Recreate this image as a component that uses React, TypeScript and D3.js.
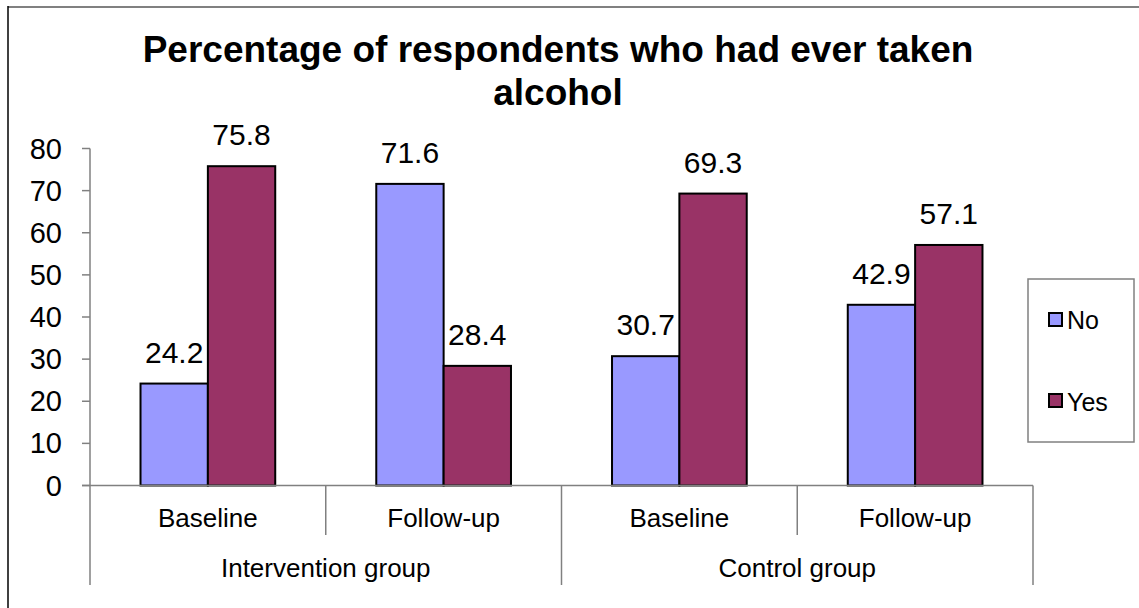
import React from "react";
import * as d3 from "d3";

const subCategories = ["Baseline", "Follow-up", "Baseline", "Follow-up"];
const groups = ["Intervention group", "Control group"];
const seriesNames = ["No", "Yes"];
const noValues = [24.2, 71.6, 30.7, 42.9];
const yesValues = [75.8, 28.4, 69.3, 57.1];
const yTicks = [0, 10, 20, 30, 40, 50, 60, 70, 80];
const colors = ["#9999FF", "#993366"];
const titleLines = ["Percentage of respondents who had ever taken", "alcohol"];

const FONT = "'Liberation Sans', Arial, sans-serif";

export default function App() {
  const W = 1139;
  const H = 608;
  const left = 90;
  const right = 1033;
  const yBottom = 485.5;
  const yTop = 148.5;

  const x0 = d3.scaleBand<number>().domain(d3.range(subCategories.length)).range([left, right]);
  const bw = x0.bandwidth();
  const barW = bw / 3.5;
  const x1 = d3
    .scaleBand<string>()
    .domain(seriesNames)
    .range([(bw - 2 * barW) / 2, (bw + 2 * barW) / 2]);
  const y = d3.scaleLinear().domain([0, 80]).range([yBottom, yTop]);

  const values = [noValues, yesValues];
  const axisColor = "#808080";

  return (
    <svg
      width={W}
      height={H}
      style={{ position: "absolute", left: 0, top: 0, display: "block" }}
      fontFamily={FONT}
    >
      <rect x={0} y={0} width={W} height={H} fill="#fff" />
      {/* outer frame */}
      <line x1={8} y1={7} x2={W} y2={7} stroke={axisColor} strokeWidth={2} />
      <line x1={8} y1={6} x2={8} y2={H} stroke="#000" strokeWidth={1.5} />

      {/* title */}
      {titleLines.map((t, i) => (
        <text
          key={i}
          x={558}
          y={62 + i * 43}
          textAnchor="middle"
          fontSize={37}
          fontWeight="bold"
          fill="#000"
        >
          {t}
        </text>
      ))}

      {/* y axis */}
      <line x1={left} y1={yTop} x2={left} y2={yBottom} stroke={axisColor} strokeWidth={1.5} />
      {yTicks.map((t) => (
        <g key={t}>
          <line x1={82} x2={left} y1={y(t)} y2={y(t)} stroke={axisColor} strokeWidth={1.5} />
          <text x={62} y={y(t) + 10} textAnchor="end" fontSize={29} fill="#000">
            {t}
          </text>
        </g>
      ))}

      {/* bars */}
      {subCategories.map((c, i) =>
        seriesNames.map((s, j) => {
          const v = values[j][i];
          const bx = (x0(i) as number) + (x1(s) as number);
          return (
            <g key={`${i}-${j}`}>
              <rect
                x={bx}
                y={y(v)}
                width={barW}
                height={y(0) - y(v)}
                fill={colors[j]}
                stroke="#000"
                strokeWidth={2}
              />
              <text
                x={bx + barW / 2}
                y={y(v) - 21}
                textAnchor="middle"
                fontSize={30}
                fill="#000"
              >
                {v.toFixed(1)}
              </text>
            </g>
          );
        })
      )}

      {/* x axis */}
      <line x1={82} x2={right} y1={yBottom} y2={yBottom} stroke={axisColor} strokeWidth={1.5} />
      {subCategories.map((c, i) => (
        <text
          key={i}
          x={(x0(i) as number) + bw / 2}
          y={527}
          textAnchor="middle"
          fontSize={26}
          fill="#000"
        >
          {c}
        </text>
      ))}
      {d3.range(subCategories.length + 1).map((i) => {
        const xx = i < subCategories.length ? (x0(i) as number) : right;
        const long = i % 2 === 0;
        return (
          <line
            key={i}
            x1={xx}
            x2={xx}
            y1={yBottom}
            y2={long ? 585 : 535}
            stroke={axisColor}
            strokeWidth={1.5}
          />
        );
      })}
      {groups.map((g, k) => (
        <text
          key={g}
          x={(x0(k * 2) as number) + bw}
          y={577}
          textAnchor="middle"
          fontSize={26}
          fill="#000"
        >
          {g}
        </text>
      ))}

      {/* legend */}
      <rect x={1028} y={279} width={106} height={163} fill="#fff" stroke={axisColor} strokeWidth={1.5} />
      {seriesNames.map((s, j) => (
        <g key={s}>
          <rect
            x={1049}
            y={313 + j * 81}
            width={13}
            height={13}
            fill={colors[j]}
            stroke="#000"
            strokeWidth={2}
          />
          <text x={1067} y={329 + j * 82} fontSize={25} fill="#000">
            {s}
          </text>
        </g>
      ))}
    </svg>
  );
}
